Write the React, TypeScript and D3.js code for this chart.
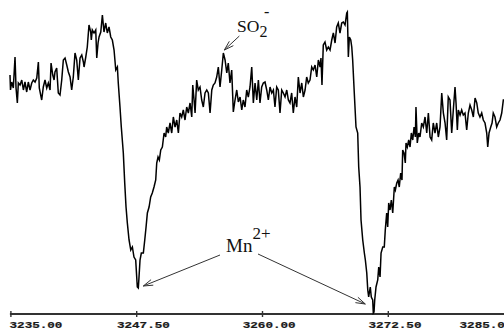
import React, { useEffect, useRef } from "react";
import * as d3 from "d3";

// EPR spectrum: [magnetic field (G), signal intensity (a.u.)]
const spectrum: [number, number][] = [
  [3234.91, 239], [3234.96, 224], [3235.08, 232], [3235.24, 226], [3235.41, 257], [3235.51, 226],
  [3235.64, 211], [3235.74, 231], [3235.91, 229], [3236.08, 234], [3236.24, 224], [3236.40, 232],
  [3236.57, 222], [3236.73, 232], [3236.90, 224], [3237.07, 231], [3237.23, 234], [3237.40, 232],
  [3237.57, 236], [3237.73, 252], [3237.82, 226], [3238.06, 214], [3238.22, 227], [3238.39, 234],
  [3238.56, 226], [3238.72, 231], [3238.89, 224], [3238.99, 251], [3239.16, 239], [3239.29, 234],
  [3239.38, 242], [3239.55, 246], [3239.71, 221], [3239.88, 219], [3240.05, 234], [3240.21, 254],
  [3240.38, 256], [3240.55, 249], [3240.71, 242], [3240.88, 237], [3241.04, 224], [3241.20, 237],
  [3241.37, 261], [3241.54, 254], [3241.70, 234], [3241.87, 256], [3242.04, 259], [3242.20, 252],
  [3242.27, 247], [3242.44, 257], [3242.59, 267], [3242.76, 289], [3242.93, 282], [3242.99, 274],
  [3243.09, 284], [3243.26, 281], [3243.43, 284], [3243.53, 256], [3243.66, 271], [3243.76, 277],
  [3243.93, 282], [3244.09, 299], [3244.25, 282], [3244.42, 291], [3244.58, 281], [3244.75, 287],
  [3244.92, 277], [3245.08, 274], [3245.25, 264], [3245.42, 244], [3245.58, 247], [3245.67, 231],
  [3245.84, 207], [3245.97, 187], [3246.17, 161], [3246.31, 131], [3246.44, 107], [3246.57, 91],
  [3246.74, 74], [3246.91, 64], [3247.07, 67], [3247.23, 57], [3247.40, 54], [3247.56, 27],
  [3247.66, 26], [3247.73, 37], [3247.83, 54], [3247.96, 61], [3248.16, 61], [3248.30, 74],
  [3248.43, 87], [3248.56, 101], [3248.73, 107], [3248.89, 117], [3249.05, 121], [3249.22, 127],
  [3249.39, 134], [3249.49, 151], [3249.62, 157], [3249.75, 154], [3249.89, 164], [3250.05, 167],
  [3250.22, 181], [3250.38, 177], [3250.48, 187], [3250.64, 181], [3250.81, 191], [3250.98, 181],
  [3251.14, 197], [3251.31, 187], [3251.48, 194], [3251.64, 181], [3251.80, 201], [3251.97, 197],
  [3252.13, 204], [3252.30, 194], [3252.47, 207], [3252.63, 201], [3252.80, 211], [3252.97, 197],
  [3253.07, 229], [3253.20, 214], [3253.30, 201], [3253.46, 234], [3253.62, 224], [3253.79, 227],
  [3253.96, 214], [3254.12, 207], [3254.29, 221], [3254.46, 224], [3254.62, 221], [3254.79, 201],
  [3254.96, 224], [3255.11, 229], [3255.28, 231], [3255.45, 237], [3255.61, 247], [3255.78, 227],
  [3255.95, 244], [3256.11, 261], [3256.28, 254], [3256.45, 241], [3256.60, 251], [3256.77, 231],
  [3256.94, 244], [3257.10, 202], [3257.27, 214], [3257.44, 224], [3257.60, 212], [3257.77, 217],
  [3257.94, 204], [3258.09, 214], [3258.26, 207], [3258.43, 224], [3258.59, 217], [3258.76, 227],
  [3258.93, 247], [3259.09, 211], [3259.26, 231], [3259.43, 214], [3259.59, 234], [3259.75, 211],
  [3259.92, 227], [3260.08, 231], [3260.25, 232], [3260.42, 224], [3260.58, 214], [3260.75, 227],
  [3260.92, 221], [3261.08, 224], [3261.24, 207], [3261.41, 227], [3261.57, 224], [3261.74, 201],
  [3261.91, 224], [3262.07, 221], [3262.24, 217], [3262.41, 224], [3262.57, 214], [3262.73, 211],
  [3262.90, 221], [3263.06, 201], [3263.23, 217], [3263.40, 207], [3263.56, 237], [3263.73, 221],
  [3263.90, 231], [3264.06, 217], [3264.23, 224], [3264.39, 237], [3264.55, 231], [3264.72, 234],
  [3264.89, 247], [3265.05, 244], [3265.22, 249], [3265.39, 237], [3265.55, 254], [3265.72, 247],
  [3265.81, 256], [3265.91, 229], [3266.04, 269], [3266.21, 272], [3266.38, 264], [3266.54, 267],
  [3266.71, 264], [3266.88, 274], [3267.04, 281], [3267.21, 271], [3267.37, 287], [3267.53, 291],
  [3267.70, 281], [3267.87, 291], [3268.03, 292], [3268.20, 289], [3268.37, 301], [3268.43, 302],
  [3268.53, 257], [3268.63, 277], [3268.77, 274], [3268.87, 267], [3268.96, 254], [3269.12, 221],
  [3269.29, 187], [3269.46, 181], [3269.56, 147], [3269.69, 127], [3269.79, 94], [3269.96, 74],
  [3270.12, 61], [3270.22, 54], [3270.36, 41], [3270.46, 24], [3270.55, 17], [3270.61, 21],
  [3270.71, 27], [3270.81, 17], [3270.95, 14], [3271.01, 1], [3271.08, 2], [3271.15, 14],
  [3271.28, 27], [3271.45, 34], [3271.55, 47], [3271.68, 37], [3271.78, 61], [3271.95, 67],
  [3272.10, 67], [3272.20, 84], [3272.34, 101], [3272.44, 87], [3272.54, 111], [3272.67, 104],
  [3272.80, 114], [3272.94, 101], [3273.10, 127], [3273.20, 124], [3273.34, 131], [3273.47, 134],
  [3273.59, 127], [3273.73, 141], [3273.86, 134], [3273.93, 164], [3274.06, 161], [3274.19, 151],
  [3274.26, 171], [3274.39, 167], [3274.53, 174], [3274.66, 167], [3274.79, 181], [3274.93, 174],
  [3275.06, 187], [3275.19, 177], [3275.25, 207], [3275.38, 171], [3275.52, 181], [3275.65, 177],
  [3275.82, 191], [3275.98, 187], [3276.15, 197], [3276.32, 181], [3276.48, 201], [3276.65, 177],
  [3276.81, 174], [3276.97, 191], [3277.14, 181], [3277.31, 191], [3277.47, 177], [3277.64, 187],
  [3277.81, 221], [3277.97, 201], [3278.14, 191], [3278.30, 174], [3278.46, 217], [3278.63, 214],
  [3278.80, 181], [3278.96, 204], [3279.13, 227], [3279.23, 211], [3279.36, 184], [3279.46, 204],
  [3279.63, 199], [3279.79, 204], [3279.95, 199], [3280.12, 201], [3280.29, 184], [3280.45, 201],
  [3280.62, 209], [3280.79, 204], [3280.95, 197], [3281.12, 216], [3281.29, 211], [3281.44, 201],
  [3281.61, 197], [3281.78, 201], [3281.94, 194], [3282.11, 191], [3282.28, 181], [3282.38, 167],
  [3282.51, 181], [3282.68, 187], [3282.81, 191], [3282.93, 201], [3283.10, 197], [3283.27, 187],
  [3283.43, 191], [3283.60, 194], [3283.77, 201], [3283.93, 214], [3284.10, 214],
];

const tickValues = [3235, 3247.5, 3260, 3272.5, 3285];

// annotated features
const so2Peak = { field: 3256.11, intensity: 261 };
const mnLines = [
  { field: 3247.56, intensity: 26 },
  { field: 3271.01, intensity: 1 },
];

const W = 504;
const H = 331;

export default function App() {
  const ref = useRef<SVGSVGElement | null>(null);

  useEffect(() => {
    const svg = d3.select(ref.current);
    svg.selectAll("*").remove();

    const x = d3.scaleLinear().domain([3235, 3285]).range([10.9, 514.1]);
    const y = d3.scaleLinear().domain([0, 300]).range([314, 14]);

    const axisY = 314;
    svg
      .append("line")
      .attr("x1", x(3235) - 1)
      .attr("x2", W)
      .attr("y1", axisY)
      .attr("y2", axisY)
      .attr("stroke", "#333")
      .attr("stroke-width", 1.8);

    tickValues.forEach((t) => {
      svg
        .append("line")
        .attr("x1", x(t))
        .attr("x2", x(t))
        .attr("y1", axisY - 3)
        .attr("y2", axisY + 3)
        .attr("stroke", "#333")
        .attr("stroke-width", 1.4);
      const cx = Math.max(36, Math.min(486, x(t) + 6.7));
      svg
        .append("text")
        .attr("x", cx)
        .attr("y", 0)
        .attr("text-anchor", "middle")
        .attr("transform", `translate(0,${328}) scale(1,0.75)`)
        .attr("font-family", "'Liberation Mono', 'DejaVu Sans Mono', monospace")
        .attr("font-weight", "bold")
        .attr("font-size", 12.6)
        .attr("fill", "#1a1a1a")
        .attr("stroke", "#1a1a1a")
        .attr("stroke-width", 0.3)
        .text(d3.format(".2f")(t));
    });

    const line = d3
      .line<[number, number]>()
      .x((d) => x(d[0]))
      .y((d) => y(d[1]));
    svg
      .append("path")
      .datum(spectrum)
      .attr("d", line)
      .attr("fill", "none")
      .attr("stroke", "#000")
      .attr("stroke-width", 1.5)
      .attr("stroke-linejoin", "miter");

    const arrow = (x1: number, y1: number, x2: number, y2: number) => {
      const ang = Math.atan2(y2 - y1, x2 - x1);
      const len = 10;
      const spread = 0.3;
      const a1 = ang + Math.PI - spread;
      const a2 = ang + Math.PI + spread;
      svg
        .append("path")
        .attr(
          "d",
          `M${x1},${y1}L${x2},${y2}M${x2 + len * Math.cos(a1)},${y2 + len * Math.sin(a1)}L${x2},${y2}L${x2 + len * Math.cos(a2)},${y2 + len * Math.sin(a2)}`
        )
        .attr("fill", "none")
        .attr("stroke", "#333")
        .attr("stroke-width", 1);
    };

    const sx = x(so2Peak.field);
    const sy = y(so2Peak.intensity);
    arrow(sx + 16, sy - 17, sx + 1, sy - 3);
    const so2 = svg
      .append("text")
      .attr("x", 237)
      .attr("y", 32)
      .attr("font-family", "'Liberation Serif', 'DejaVu Serif', serif")
      .attr("font-size", 17.5)
      .attr("fill", "#111");
    so2.append("tspan").text("SO");
    so2.append("tspan").attr("dy", 5).attr("font-size", 16).text("2");
    svg
      .append("text")
      .attr("x", 264)
      .attr("y", 17)
      .attr("font-family", "'Liberation Serif', 'DejaVu Serif', serif")
      .attr("font-size", 16)
      .attr("fill", "#111")
      .text("-");

    const mn = svg
      .append("text")
      .attr("x", 226)
      .attr("y", 252)
      .attr("font-family", "'Liberation Serif', 'DejaVu Serif', serif")
      .attr("font-size", 19)
      .attr("fill", "#111");
    mn.append("tspan").text("Mn");
    mn.append("tspan").attr("dy", -13).attr("font-size", 17).text("2+");

    const [l, r] = mnLines;
    arrow(220, 255, x(l.field) + 6, y(l.intensity) - 2);
    arrow(258, 254, x(r.field) - 8, y(r.intensity) - 9);
  }, []);

  return (
    <svg
      ref={ref}
      width={W}
      height={H}
      style={{ position: "absolute", left: 0, top: 0, background: "#fff" }}
    />
  );
}
